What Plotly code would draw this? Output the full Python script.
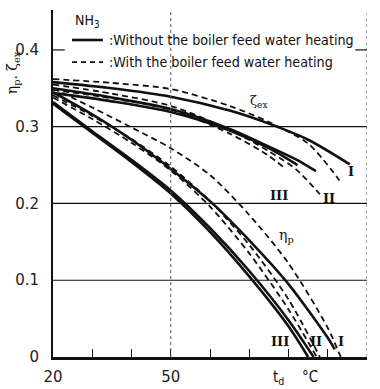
import plotly.graph_objects as go

# ---------------- data ----------------
# zeta_ex curves (exergy efficiency)
ZS1_T = [20, 35, 50, 65, 75, 85, 95.6]
ZS1_V = [0.358, 0.350, 0.339, 0.321, 0.304, 0.283, 0.251]
ZD1_T = [20, 35, 50, 65, 75, 85, 93]
ZD1_V = [0.362, 0.357, 0.349, 0.327, 0.306, 0.278, 0.230]
ZS2_T = [20, 35, 50, 65, 75, 82, 87]
ZS2_V = [0.350, 0.338, 0.323, 0.297, 0.274, 0.257, 0.242]
ZD2_T = [20, 35, 50, 65, 75, 82, 88]
ZD2_V = [0.355, 0.343, 0.327, 0.296, 0.268, 0.244, 0.212]
ZS3_T = [20, 35, 50, 65, 75, 82.3]
ZS3_V = [0.344, 0.333, 0.319, 0.295, 0.272, 0.250]
ZD3_T = [20, 35, 50, 65, 75, 79]
ZD3_V = [0.348, 0.337, 0.322, 0.291, 0.262, 0.246]

# eta_p curves (thermal efficiency)
PS3_T = [20, 30, 40, 50, 60, 70, 80, 85]
PS3_V = [0.330, 0.292, 0.254, 0.213, 0.163, 0.105, 0.040, 0.0]
PS2_T = [20, 30, 40, 50, 60, 70, 80, 86.4]
PS2_V = [0.332, 0.294, 0.257, 0.217, 0.168, 0.112, 0.048, 0.0]
PD3_T = [20, 30, 40, 50, 60, 70, 80, 87.2]
PD3_V = [0.338, 0.310, 0.279, 0.243, 0.196, 0.135, 0.062, 0.0]
PD2_T = [20, 30, 40, 50, 60, 70, 80, 88]
PD2_V = [0.341, 0.314, 0.284, 0.248, 0.203, 0.146, 0.075, 0.0]
PS1_T = [20, 30, 40, 50, 60, 70, 80, 90, 91.8]
PS1_V = [0.345, 0.316, 0.283, 0.245, 0.203, 0.152, 0.095, 0.025, 0.010]
PD1_T = [20, 30, 40, 50, 60, 70, 80, 90, 93.3]
PD1_V = [0.350, 0.325, 0.299, 0.272, 0.237, 0.185, 0.122, 0.038, 0.0]

X_TICKS = [20, 30, 40, 50, 60, 70, 80, 90, 100]
X_TICK_TEXT = ["20", "", "", "50", "", "", "", "", "100"]
Y_TICKS = [0, 0.1, 0.2, 0.3, 0.4]
Y_TICK_TEXT = ["0", "0.1", "0.2", "0.3", "0.4"]
GRID_Y = [0.1, 0.2, 0.3]

LEGEND_SOLID = ":Without the boiler feed water heating"
LEGEND_DASH = ":With the boiler feed water heating"

# ---------------- figure ----------------
INK = "#111111"
fig = go.Figure()

solid = dict(color=INK, width=2.6)
dashed = dict(color=INK, width=1.8, dash="6px,4px")

series = [
    (ZS1_T, ZS1_V, solid), (ZD1_T, ZD1_V, dashed),
    (ZS2_T, ZS2_V, solid), (ZD2_T, ZD2_V, dashed),
    (ZS3_T, ZS3_V, solid), (ZD3_T, ZD3_V, dashed),
    (PS3_T, PS3_V, solid), (PS2_T, PS2_V, solid),
    (PD3_T, PD3_V, dashed), (PD2_T, PD2_V, dashed),
    (PS1_T, PS1_V, solid), (PD1_T, PD1_V, dashed),
]
for t, v, ln in series:
    fig.add_trace(go.Scatter(x=t, y=v, mode="lines", line=dict(shape="spline", smoothing=0.8, **ln),
                             showlegend=False, hoverinfo="skip"))

shapes = []
for g in GRID_Y:
    shapes.append(dict(type="line", xref="x", yref="y", x0=20, x1=100, y0=g, y1=g,
                       line=dict(color=INK, width=1.2)))
# 0.4 short marks at both sides
shapes.append(dict(type="line", xref="x", yref="y", x0=20, x1=23, y0=0.4, y1=0.4, line=dict(color=INK, width=1.2)))
shapes.append(dict(type="line", xref="x", yref="y", x0=97, x1=100, y0=0.4, y1=0.4, line=dict(color=INK, width=1.2)))
# dotted vertical at 50
shapes.append(dict(type="line", xref="x", yref="paper", x0=50, x1=50, y0=0, y1=1,
                   line=dict(color="#555555", width=1, dash="dot")))
# right dashed border
shapes.append(dict(type="line", xref="x", yref="paper", x0=100, x1=100, y0=0, y1=0.99,
                   line=dict(color="#555555", width=1, dash="dot")))
# legend sample lines
shapes.append(dict(type="line", xref="paper", yref="paper", x0=0.0605, x1=0.159, y0=0.9135, y1=0.9135,
                   line=dict(color=INK, width=2.6)))
shapes.append(dict(type="line", xref="paper", yref="paper", x0=0.0605, x1=0.159, y0=0.850, y1=0.850,
                   line=dict(color=INK, width=1.8, dash="5px,4px")))

font_txt = "Liberation Sans Narrow, DejaVu Sans Condensed, Arial Narrow, sans-serif"
roman = "DejaVu Serif, serif"

ann = []
ann.append(dict(xref="paper", yref="paper", x=0.063, y=0.968, xanchor="left", yanchor="middle",
                text="NH<sub>3</sub>", showarrow=False, font=dict(family=font_txt, size=14, color=INK)))
ann.append(dict(xref="paper", yref="paper", x=0.172, y=0.9135, xanchor="left", yanchor="middle",
                text=LEGEND_SOLID, showarrow=False, font=dict(family=font_txt, size=14.2, color=INK)))
ann.append(dict(xref="paper", yref="paper", x=0.172, y=0.850, xanchor="left", yanchor="middle",
                text=LEGEND_DASH, showarrow=False, font=dict(family=font_txt, size=14.2, color=INK)))
# curve labels
ann.append(dict(x=72.5, y=0.333, text="ζ<sub>ex</sub>", showarrow=False,
                font=dict(family="DejaVu Serif, serif", size=13, color=INK)))
ann.append(dict(x=79.5, y=0.158, text="η<sub>p</sub>", showarrow=False,
                font=dict(family="DejaVu Serif, serif", size=14, color=INK)))
for x, y, s in [(96.0, 0.242, "I"), (90.3, 0.207, "II"), (77.6, 0.210, "III"),
                (77.8, 0.020, "III"), (87.0, 0.020, "II"), (93.3, 0.020, "I")]:
    ann.append(dict(x=x, y=y, text="<b>" + s + "</b>", showarrow=False,
                    font=dict(family=roman, size=13, color=INK)))
# axis titles
ann.append(dict(xref="paper", yref="paper", x=-0.125, y=0.82, xanchor="center", yanchor="middle",
                text="η<sub>p</sub>. ζ<sub>ex</sub>", textangle=-90, showarrow=False,
                font=dict(family="DejaVu Serif, serif", size=14, color=INK)))
ann.append(dict(xref="paper", yref="paper", x=0.717, y=-0.058, xanchor="center", yanchor="middle",
                text="t<sub>d</sub>", showarrow=False, font=dict(family=font_txt, size=15, color=INK)))
ann.append(dict(xref="paper", yref="paper", x=0.818, y=-0.058, xanchor="center", yanchor="middle",
                text="°C", showarrow=False, font=dict(family=font_txt, size=15, color=INK)))

fig.update_layout(
    width=380, height=389,
    margin=dict(l=53, r=13, t=10, b=32, autoexpand=False),
    paper_bgcolor="white", plot_bgcolor="white",
    shapes=shapes, annotations=ann, showlegend=False,
    xaxis=dict(range=[20, 100], tickvals=X_TICKS, ticktext=X_TICK_TEXT, ticks="inside", ticklen=8,
               tickcolor=INK, tickwidth=1, showgrid=False, zeroline=False, automargin=False,
               showline=True, linecolor=INK, linewidth=2.5, ticklabelstandoff=4,
               tickfont=dict(family="DejaVu Sans, sans-serif", size=15, color="#222")),
    yaxis=dict(range=[0, 0.452], tickvals=Y_TICKS, ticktext=Y_TICK_TEXT, ticks="", showgrid=False,
               zeroline=False, showline=True, linecolor=INK, linewidth=2, ticklabelstandoff=9,
               automargin=False,
               tickfont=dict(family="DejaVu Sans, sans-serif", size=15, color="#222")),
)

fig.write_html("out.html")
